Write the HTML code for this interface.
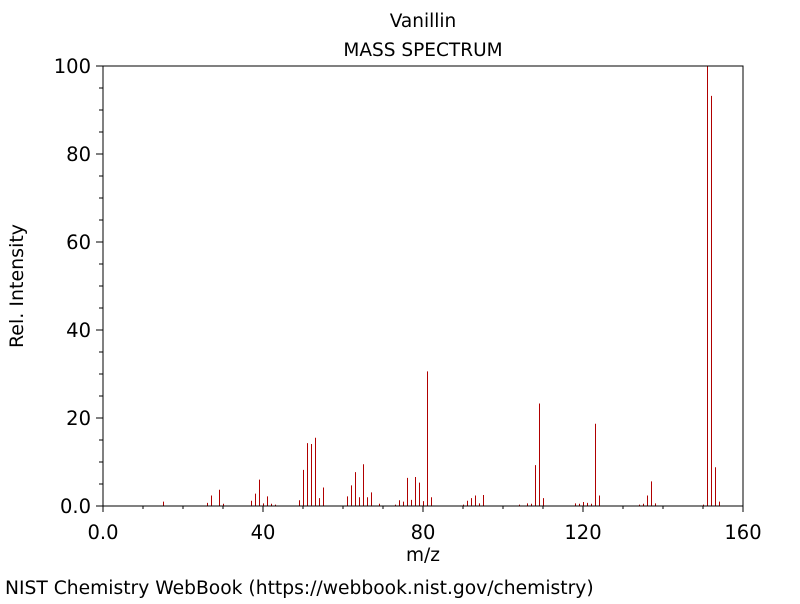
<!DOCTYPE html>
<html><head><meta charset="utf-8"><style>
body{margin:0;background:#fff;width:800px;height:600px;overflow:hidden;font-family:"DejaVu Sans","Liberation Sans",sans-serif;}
</style></head><body>
<svg id="chart" width="800" height="600" xmlns="http://www.w3.org/2000/svg" font-family="DejaVu Sans, Liberation Sans, sans-serif">
<text x="423" y="27" font-size="18.5" text-anchor="middle">Vanillin</text>
<text x="423" y="56" font-size="18.5" text-anchor="middle">MASS SPECTRUM</text>
<g id="ticks"></g>
<g id="peaks"></g>
<rect x="103" y="66" width="640" height="440" fill="none" stroke="#000" stroke-width="1"/>
<text x="423" y="561" font-size="18.5" text-anchor="middle">m/z</text>
<text x="23" y="286" font-size="19" text-anchor="middle" transform="rotate(-90 23 286)">Rel. Intensity</text>
<text x="5" y="594" font-size="18.7">NIST Chemistry WebBook (https://webbook.nist.gov/chemistry)</text>
</svg>
<script>
const mzValues=[15,26,27,29,30,37,38,39,40,41,42,43,49,50,51,52,53,54,55,61,62,63,64,65,66,67,69,73,74,75,76,77,78,79,80,81,82,90,91,92,93,94,95,104,106,107,108,109,110,118,119,120,121,122,123,124,134,135,136,137,138,150,151,152,153,154];
const intensities=[1,0.7,2.4,3.7,0.5,1.2,2.8,6,0.6,2.2,0.5,0.3,1.3,8.2,14.3,14.1,15.5,1.8,4.2,2.2,4.7,7.7,2,9.5,2,3.1,0.5,0.3,1.3,1,6.4,1.4,6.6,5.3,1.1,30.6,2,0.3,1.2,1.8,2.4,0.6,2.5,0.3,0.6,0.5,9.3,23.3,1.8,0.6,0.5,0.9,0.7,0.5,18.7,2.4,0.3,0.5,2.4,5.6,0.6,0.3,100,93.2,8.8,1];
const xTickLabels=["0.0","40","80","120","160"];
const yTickLabels=["0.0","20","40","60","80","100"];
const NS="http://www.w3.org/2000/svg";
const X=v=>103+v*4, Y=v=>506-v*4.4;
const pk=document.getElementById('peaks'), tk=document.getElementById('ticks');
function mk(tag,attrs,parent){const e=document.createElementNS(NS,tag);for(const k in attrs)e.setAttribute(k,attrs[k]);parent.appendChild(e);return e;}
mzValues.forEach((m,i)=>{
 const l=mk('line',{x1:X(m)+0.5,x2:X(m)+0.5,y1:Y(0),y2:Y(intensities[i]),stroke:'#b00000','stroke-width':1},pk);
 
 
});
for(let v=0;v<=160;v+=10){
 const major=v%40===0;
 const t=mk('line',{x1:X(v),x2:X(v),y1:506,y2:major?512:509,stroke:'#000'},tk);
 
 
}
xTickLabels.forEach((s,i)=>{
 const t=mk('text',{x:X(i*40),y:539,'font-size':19.5,'text-anchor':'middle'},tk);t.textContent=s;
 
 
});
for(let v=0;v<=100;v+=5){
 const major=v%20===0;
 const t=mk('line',{x1:major?96:99,x2:103,y1:Y(v),y2:Y(v),stroke:'#000'},tk);
 
 
}
yTickLabels.forEach((s,i)=>{
 const t=mk('text',{x:91,y:Y(i*20)+7,'font-size':19.5,'text-anchor':'end'},tk);t.textContent=s;
 
 
});
</script>
</body></html>
